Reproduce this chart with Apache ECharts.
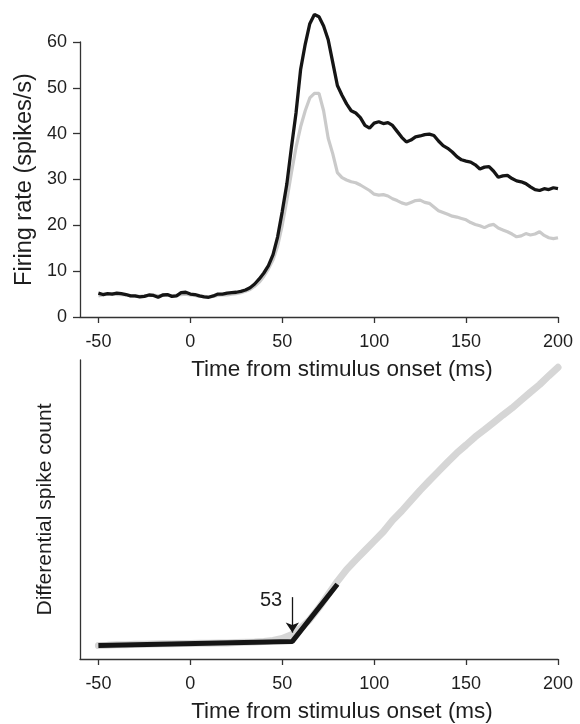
<!DOCTYPE html>
<html>
<head>
<meta charset="utf-8">
<script src="https://cdn.jsdelivr.net/npm/echarts@6/dist/echarts.min.js"></script>
<style>
  html, body { margin: 0; padding: 0; background: #fff; }
  #chart { width: 580px; height: 724px; }
</style>
</head>
<body>
<div id="chart"></div>
<script>
// ---- Data (top panel: firing rate, 2.5 ms steps) ----
var timeTop = [];
for (var t = -50; t <= 200; t += 2.5) timeTop.push(t);

var rateBlack = [
  5.2, 4.9, 5.1, 5.0, 5.2, 5.1, 4.9, 4.6, 4.6, 4.4,
  4.5, 4.8, 4.7, 4.3, 4.8, 4.9, 4.5, 4.6, 5.3, 5.4,
  5.0, 4.9, 4.6, 4.4, 4.3, 4.6, 5.0, 5.0, 5.2, 5.3,
  5.4, 5.6, 5.9, 6.4, 7.2, 8.3, 9.6, 11.2, 13.6, 17.5,
  23.0, 29.0, 37.0, 44.5, 54.0, 59.5, 64.0, 66.0, 65.5, 63.5,
  60.5, 55.5, 50.5, 48.4, 46.5, 45.0, 44.5, 43.5, 41.8, 41.2,
  42.3, 42.6, 42.2, 42.4, 41.8, 40.5, 39.2, 38.2, 38.6, 39.3,
  39.5, 39.8, 39.9, 39.6, 38.4, 37.4, 36.8, 36.0, 35.0, 34.3,
  34.0, 33.8, 33.2, 32.3, 32.7, 32.8, 31.8, 30.5, 30.8, 30.9,
  30.2, 29.7, 29.5, 29.1, 28.4, 27.8, 27.6, 28.0, 27.8, 28.2,
  28.0
];

var rateGray = [
  4.6, 4.8, 5.0, 5.1, 4.9, 4.9, 4.8, 4.6, 4.5, 4.5,
  4.6, 4.7, 4.8, 4.6, 4.7, 4.8, 4.6, 4.7, 4.9, 5.0,
  4.8, 4.7, 4.5, 4.5, 4.4, 4.5, 4.7, 4.8, 4.8, 5.0,
  5.1, 5.3, 5.6, 6.0, 6.7, 7.6, 8.9, 10.5, 12.5, 15.5,
  20.0, 25.5, 31.5, 37.0, 41.5, 45.0, 47.8, 48.8, 48.8, 45.0,
  39.0, 35.6, 31.5, 30.4, 29.9, 29.5, 29.3, 28.8, 28.2, 27.6,
  26.8, 26.6, 26.7, 26.4, 25.8, 25.4, 24.9, 24.6, 25.0, 25.4,
  25.5, 25.0, 24.8, 24.0, 23.2, 22.8, 22.4, 22.0, 21.8, 21.5,
  21.2, 20.6, 20.2, 19.9, 19.5, 20.0, 20.2, 19.4, 19.0, 18.6,
  18.1, 17.5, 17.7, 18.2, 17.9, 18.1, 18.6, 17.8, 17.3, 17.1,
  17.3
];

// ---- Data (bottom panel: differential spike count, arbitrary units) ----
var timeBottom = [];
for (var u = -50; u <= 200; u += 5) timeBottom.push(u);

var countGray = [
  4.6, 4.7, 4.9, 4.9, 5.0, 5.0, 5.1, 5.2, 5.2, 5.3,
  5.3, 5.4, 5.4, 5.5, 5.5, 5.6, 5.7, 5.8, 6.0, 6.3,
  7.0, 8.3, 10.5, 13.5, 17.5, 22.0, 26.5, 30.5, 33.8, 37.0,
  40.2, 43.4, 47.3, 50.5, 54.0, 57.5, 60.8, 64.0, 67.2, 70.3,
  73.0, 75.8, 78.2, 80.7, 83.2, 85.6, 88.3, 91.0, 93.6, 96.6,
  99.5
];

var fitTime = [-50, 55.5, 80];
var fitCount = [4.6, 6.0, 25.5];

var onsetLabel = '53';
var onsetX = 55.5;
var arrowFrom = 21.1;
var arrowTo = 9.0;
var labelX = 43.9;
var labelY = 20.0;

var xTicks = [-50, 0, 50, 100, 150, 200];

function pairs(xs, ys) { return xs.map(function (x, i) { return [x, ys[i]]; }); }

var FONT = 'Liberation Sans, Arial, Helvetica, sans-serif';
var TXT = '#1e1e1e';
var AX = '#333';

function xAxisCfg(gridIndex) {
  return {
    type: 'value', gridIndex: gridIndex, min: -60, max: 200,
    name: 'Time from stimulus onset (ms)', nameLocation: 'middle', nameGap: 41,
    nameTextStyle: { fontSize: 22.5, color: TXT, fontFamily: FONT, padding: [0, 0, 0, 46] },
    axisLine: { show: true, onZero: false, lineStyle: { color: AX, width: 1.3 } },
    axisTick: { show: true, length: 6, customValues: xTicks, lineStyle: { color: AX, width: 1.3 } },
    axisLabel: { show: true, customValues: xTicks, margin: 16, fontSize: 18, color: TXT, fontFamily: FONT },
    splitLine: { show: false }
  };
}

var chart = echarts.init(document.getElementById('chart'), null, { renderer: 'canvas' });
chart.setOption({
  animation: false,
  backgroundColor: '#fff',
  grid: [
    { left: 80, right: 22, top: 42, height: 275 },
    { left: 80, right: 22, top: 360, height: 303 }
  ],
  xAxis: [xAxisCfg(0), xAxisCfg(1)],
  yAxis: [
    {
      type: 'value', gridIndex: 0, min: 0, max: 60, interval: 10,
      name: 'Firing rate (spikes/s)', nameLocation: 'middle', nameGap: 43,
      nameTextStyle: { fontSize: 23.5, color: TXT, fontFamily: FONT },
      axisLine: { show: true, onZero: false, lineStyle: { color: AX, width: 1.3 } },
      axisTick: { show: true, length: 7, lineStyle: { color: AX, width: 1.3 } },
      axisLabel: { margin: 13, fontSize: 18, color: TXT, fontFamily: FONT },
      splitLine: { show: false }
    },
    {
      type: 'value', gridIndex: 1, min: 0, max: 102,
      name: 'Differential spike count', nameLocation: 'middle', nameGap: 24,
      nameTextStyle: { fontSize: 21, color: TXT, fontFamily: FONT },
      axisLine: { show: true, onZero: false, lineStyle: { color: AX, width: 1.3 } },
      axisTick: { show: false },
      axisLabel: { show: false },
      splitLine: { show: false }
    }
  ],
  series: [
    {
      type: 'line', xAxisIndex: 0, yAxisIndex: 0, data: pairs(timeTop, rateGray),
      showSymbol: false, smooth: false, clip: false,
      lineStyle: { color: '#cacaca', width: 3.2 }
    },
    {
      type: 'line', xAxisIndex: 0, yAxisIndex: 0, data: pairs(timeTop, rateBlack),
      showSymbol: false, smooth: false, clip: false,
      lineStyle: { color: '#151515', width: 3.3 }
    },
    {
      type: 'line', xAxisIndex: 1, yAxisIndex: 1, data: pairs(timeBottom, countGray),
      showSymbol: false, smooth: false, clip: false,
      lineStyle: { color: '#d6d6d6', width: 7, cap: 'round' }
    },
    {
      type: 'line', xAxisIndex: 1, yAxisIndex: 1, data: pairs(fitTime, fitCount),
      showSymbol: false, clip: false,
      lineStyle: { color: '#151515', width: 5 },
      markLine: {
        silent: true, symbol: ['none', 'arrow'], symbolSize: 10,
        lineStyle: { color: '#151515', width: 1.3, type: 'solid' },
        label: { show: false },
        data: [[{ coord: [onsetX, arrowFrom] }, { coord: [onsetX, arrowTo] }]]
      },
      markPoint: {
        silent: true, symbol: 'circle', symbolSize: 0,
        label: { show: true, formatter: onsetLabel, fontSize: 20, color: TXT, fontFamily: FONT, position: 'inside' },
        data: [{ coord: [labelX, labelY] }]
      }
    }
  ]
});
</script>
</body>
</html>
